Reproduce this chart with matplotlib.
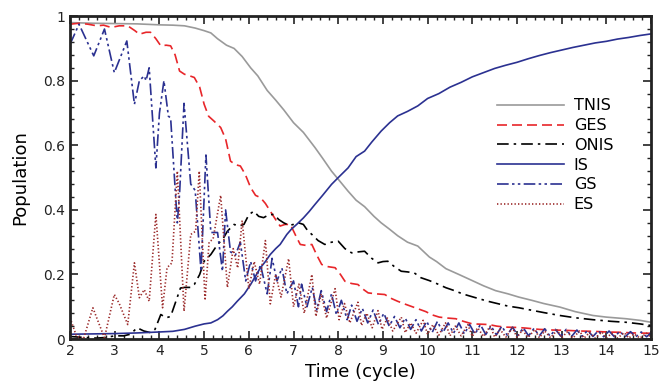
import numpy as np
import matplotlib
matplotlib.use('Agg')
import matplotlib.pyplot as plt

# данные

tnis_t = [2, 2.5, 3, 3.5, 4.0, 4.3, 4.56, 4.8, 5.0, 5.15, 5.3, 5.5, 5.67, 5.85, 6.04, 6.2, 6.41, 6.6,
          6.78, 7.0, 7.22, 7.48, 7.65, 7.85, 8.0, 8.22, 8.4, 8.59, 8.8, 8.96, 9.15, 9.33, 9.55, 9.78,
          10.04, 10.2, 10.41, 10.7, 11.0, 11.25, 11.52, 11.8, 12.04, 12.33, 12.6, 12.96, 13.3, 13.7,
          14.0, 14.44, 14.75, 15]
tnis = [0.98, 0.978, 0.977, 0.976, 0.973, 0.972, 0.97, 0.963, 0.955, 0.948, 0.93, 0.91, 0.90, 0.875,
        0.84, 0.815, 0.77, 0.74, 0.71, 0.67, 0.64, 0.593, 0.56, 0.52, 0.495, 0.458, 0.43, 0.41, 0.38,
        0.36, 0.34, 0.32, 0.30, 0.288, 0.254, 0.24, 0.218, 0.2, 0.181, 0.165, 0.15, 0.14, 0.13, 0.12,
        0.11, 0.099, 0.085, 0.073, 0.068, 0.063, 0.058, 0.052]

ges_t = [2.0, 2.2, 2.4, 2.6, 2.75, 2.92, 3.1, 3.29, 3.45, 3.55, 3.7, 3.8, 3.92, 4.03, 4.15, 4.25, 4.35,
         4.45, 4.56, 4.68, 4.78, 4.9, 5.0, 5.1, 5.22, 5.37, 5.48, 5.59, 5.7, 5.81, 5.92, 6.04, 6.15,
         6.26, 6.37, 6.48, 6.6, 6.7, 6.81, 6.93, 7.05, 7.15, 7.28, 7.41, 7.52, 7.63, 7.78, 7.93, 8.05,
         8.15, 8.3, 8.44, 8.55, 8.67, 8.85, 9.04, 9.2, 9.33, 9.5, 9.7, 9.96, 10.1, 10.26, 10.45, 10.63,
         10.8, 11.0, 11.2, 11.37, 11.55, 11.74, 12.0, 12.2, 12.5, 12.8, 13.1, 13.4, 13.7, 14.0, 14.3,
         14.6, 15]
ges = [0.975, 0.978, 0.975, 0.97, 0.972, 0.965, 0.97, 0.97, 0.955, 0.944, 0.95, 0.95, 0.93, 0.908,
       0.91, 0.908, 0.88, 0.83, 0.82, 0.815, 0.81, 0.78, 0.727, 0.69, 0.675, 0.655, 0.62, 0.551, 0.54,
       0.536, 0.51, 0.469, 0.445, 0.438, 0.42, 0.396, 0.37, 0.35, 0.355, 0.355, 0.32, 0.293, 0.29,
       0.293, 0.26, 0.231, 0.224, 0.221, 0.2, 0.179, 0.172, 0.169, 0.155, 0.143, 0.14, 0.138, 0.125,
       0.117, 0.108, 0.098, 0.085, 0.075, 0.068, 0.065, 0.063, 0.055, 0.047, 0.046, 0.045, 0.04,
       0.037, 0.036, 0.034, 0.03, 0.028, 0.027, 0.025, 0.024, 0.022, 0.021, 0.019, 0.018]

onis_t = [2.0, 2.3, 2.6, 2.8, 3.0, 3.2, 3.35, 3.5, 3.65, 3.8, 3.9, 4.03, 4.15, 4.25, 4.35, 4.47, 4.56,
          4.7, 4.78, 4.9, 5.0, 5.15, 5.3, 5.42, 5.52, 5.67, 5.78, 5.89, 6.0, 6.11, 6.22, 6.33, 6.45,
          6.56, 6.67, 6.78, 6.9, 7.0, 7.11, 7.22, 7.32, 7.41, 7.55, 7.7, 7.85, 8.0, 8.15, 8.3, 8.45,
          8.59, 8.75, 8.89, 9.0, 9.11, 9.25, 9.41, 9.55, 9.7, 9.85, 10.04, 10.2, 10.41, 10.6, 10.78,
          10.95, 11.15, 11.35, 11.59, 11.8, 12.04, 12.3, 12.6, 12.96, 13.3, 13.7, 14.1, 14.44, 14.75, 15]
onis = [0.008, 0.005, 0.003, 0.005, 0.01, 0.01, 0.015, 0.035, 0.025, 0.02, 0.03, 0.076, 0.066, 0.07,
        0.11, 0.158, 0.16, 0.16, 0.169, 0.2, 0.241, 0.262, 0.293, 0.31, 0.334, 0.355, 0.35, 0.355,
        0.385, 0.396, 0.38, 0.376, 0.385, 0.386, 0.37, 0.36, 0.352, 0.355, 0.36, 0.355, 0.335, 0.324,
        0.305, 0.293, 0.30, 0.303, 0.28, 0.267, 0.27, 0.272, 0.25, 0.236, 0.24, 0.241, 0.225, 0.21,
        0.208, 0.205, 0.19, 0.181, 0.172, 0.159, 0.15, 0.14, 0.133, 0.125, 0.117, 0.109, 0.102, 0.097,
        0.09, 0.082, 0.073, 0.066, 0.06, 0.055, 0.052, 0.047, 0.042]

is_t = [2.0, 2.5, 3.0, 3.5, 4.0, 4.3, 4.56, 4.8, 5.0, 5.15, 5.3, 5.42, 5.52, 5.63, 5.74, 5.9, 6.04,
        6.15, 6.26, 6.37, 6.48, 6.6, 6.7, 6.85, 6.95, 7.07, 7.22, 7.35, 7.48, 7.65, 7.85, 8.0, 8.22,
        8.4, 8.59, 8.75, 8.96, 9.15, 9.33, 9.55, 9.78, 10.0, 10.25, 10.5, 10.75, 11.0, 11.25, 11.5,
        11.75, 12.0, 12.25, 12.5, 12.75, 13.0, 13.25, 13.5, 13.75, 14.0, 14.25, 14.5, 14.75, 15.0]
is_ = [0.015, 0.016, 0.017, 0.019, 0.022, 0.024, 0.03, 0.04, 0.047, 0.05, 0.06, 0.072, 0.086, 0.1,
       0.117, 0.14, 0.169, 0.195, 0.221, 0.24, 0.262, 0.28, 0.293, 0.324, 0.34, 0.355, 0.375, 0.395,
       0.417, 0.445, 0.479, 0.5, 0.53, 0.565, 0.582, 0.61, 0.644, 0.67, 0.691, 0.705, 0.722, 0.745,
       0.76, 0.78, 0.795, 0.812, 0.825, 0.838, 0.848, 0.857, 0.868, 0.878, 0.887, 0.895, 0.903, 0.91,
       0.917, 0.922, 0.929, 0.934, 0.94, 0.945]

gs_t = [2.0, 2.2, 2.53, 2.77, 2.99, 3.27, 3.44, 3.55, 3.66, 3.7, 3.77, 3.92, 4.0, 4.1, 4.2, 4.25, 4.4,
        4.45, 4.55, 4.7, 4.8, 4.93, 5.04, 5.15, 5.3, 5.41, 5.48, 5.59, 5.7, 5.81, 5.93, 6.04, 6.15,
        6.26, 6.41, 6.52, 6.63, 6.74, 6.85, 7.0, 7.11, 7.18, 7.3, 7.42, 7.52, 7.62, 7.74, 7.85, 7.96,
        8.07, 8.2, 8.3, 8.42, 8.54, 8.66, 8.78, 8.9, 9.02, 9.14, 9.26, 9.38, 9.5, 9.62, 9.74, 9.86,
        9.98, 10.1, 10.22, 10.34, 10.46, 10.58, 10.7, 10.82, 10.94, 11.06, 11.18, 11.3, 11.42, 11.54,
        11.66, 11.78, 11.9, 12.02, 12.14, 12.26, 12.38, 12.5, 12.62, 12.74, 12.86, 12.98, 13.1, 13.22,
        13.34, 13.46, 13.58, 13.7, 13.82, 13.94, 14.06, 14.18, 14.3, 14.42, 14.54, 14.66, 14.78, 14.9,
        15.0]
gs = [0.913, 0.975, 0.877, 0.96, 0.825, 0.923, 0.727, 0.80, 0.815, 0.80, 0.84, 0.53, 0.70, 0.80, 0.69,
      0.685, 0.36, 0.45, 0.73, 0.48, 0.46, 0.21, 0.57, 0.33, 0.33, 0.21, 0.40, 0.27, 0.26, 0.30, 0.18,
      0.24, 0.18, 0.23, 0.14, 0.25, 0.18, 0.22, 0.14, 0.18, 0.10, 0.17, 0.10, 0.16, 0.09, 0.15, 0.085,
      0.14, 0.075, 0.12, 0.06, 0.105, 0.055, 0.095, 0.05, 0.09, 0.045, 0.08, 0.04, 0.07, 0.035, 0.065,
      0.03, 0.06, 0.025, 0.055, 0.02, 0.055, 0.02, 0.05, 0.018, 0.05, 0.016, 0.045, 0.015, 0.045,
      0.014, 0.04, 0.013, 0.04, 0.012, 0.037, 0.011, 0.035, 0.01, 0.033, 0.01, 0.032, 0.009, 0.03,
      0.009, 0.03, 0.008, 0.028, 0.008, 0.027, 0.008, 0.026, 0.007, 0.025, 0.007, 0.024, 0.007,
      0.023, 0.007, 0.022, 0.007, 0.02]

es_t = [2.0, 2.14, 2.3, 2.51, 2.64, 2.77, 2.99, 3.1, 3.29, 3.44, 3.55, 3.66, 3.77, 3.92, 4.07, 4.17,
        4.28, 4.4, 4.55, 4.7, 4.81, 4.89, 5.02, 5.11, 5.2, 5.37, 5.52, 5.65, 5.75, 5.85, 6.0, 6.12,
        6.24, 6.37, 6.48, 6.6, 6.72, 6.89, 7.0, 7.12, 7.24, 7.41, 7.5, 7.62, 7.74, 7.93, 8.02, 8.14,
        8.26, 8.44, 8.52, 8.64, 8.76, 8.89, 8.98, 9.1, 9.22, 9.41, 9.5, 9.62, 9.74, 9.9, 10.0, 10.12,
        10.25, 10.4, 10.5, 10.62, 10.75, 10.9, 11.0, 11.12, 11.25, 11.4, 11.5, 11.62, 11.75, 11.9,
        12.0, 12.12, 12.25, 12.4, 12.5, 12.62, 12.75, 12.9, 13.0, 13.12, 13.25, 13.4, 13.5, 13.62,
        13.75, 13.9, 14.0, 14.12, 14.25, 14.4, 14.5, 14.62, 14.75, 14.9, 15.0]
es = [0.066, 0.01, 0.0, 0.097, 0.05, 0.004, 0.138, 0.11, 0.045, 0.236, 0.128, 0.153, 0.117, 0.386,
      0.097, 0.221, 0.236, 0.52, 0.086, 0.324, 0.334, 0.52, 0.12, 0.30, 0.31, 0.445, 0.16, 0.28, 0.22,
      0.367, 0.156, 0.24, 0.17, 0.305, 0.109, 0.2, 0.13, 0.249, 0.10, 0.17, 0.08, 0.20, 0.07, 0.14,
      0.065, 0.156, 0.06, 0.11, 0.05, 0.114, 0.042, 0.08, 0.035, 0.088, 0.03, 0.065, 0.025, 0.068,
      0.02, 0.05, 0.018, 0.058, 0.015, 0.045, 0.012, 0.05, 0.01, 0.04, 0.01, 0.045, 0.008, 0.035,
      0.008, 0.04, 0.006, 0.03, 0.006, 0.035, 0.005, 0.028, 0.005, 0.03, 0.004, 0.025, 0.004, 0.028,
      0.004, 0.022, 0.003, 0.025, 0.003, 0.02, 0.003, 0.022, 0.003, 0.018, 0.003, 0.02, 0.003, 0.016,
      0.003, 0.018, 0.005]

x_ticks = [2, 3, 4, 5, 6, 7, 8, 9, 10, 11, 12, 13, 14, 15]
y_ticks = [0, 0.2, 0.4, 0.6, 0.8, 1]
y_labels = ['0', '0.2', '0.4', '0.6', '0.8', '1']

# график

fig = plt.figure(figsize=(6.61, 3.84), dpi=100)
ax = fig.add_axes([0.106, 0.117, 0.879, 0.841])

lw = 1.2
ax.plot(tnis_t, tnis, color='#9a9a9a', lw=lw, label='TNIS')
ax.plot(ges_t, ges, color='#e8262a', lw=lw, dashes=(6, 3), label='GES')
ax.plot(onis_t, onis, color='black', lw=lw, dashes=(7, 3, 1.5, 3), label='ONIS')
ax.plot(is_t, is_, color='#2b3191', lw=lw, label='IS')
ax.plot(gs_t, gs, color='#2b3191', lw=lw, dashes=(7, 2, 1.5, 2, 1.5, 2), label='GS')
ax.plot(es_t, es, color='#9b2a2a', lw=lw, dashes=(0.8, 1.3), label='ES')

ax.set_xlim(2, 15)
ax.set_ylim(0, 1)
ax.set_xticks(x_ticks)
ax.set_xticks(np.arange(2, 15.01, 0.2), minor=True)
ax.set_yticks(y_ticks)
ax.set_yticklabels(y_labels)
ax.set_yticks(np.arange(0, 1.001, 0.04), minor=True)
ax.tick_params(which='both', direction='in', top=True, right=True, labelsize=10, colors='#222222')
ax.tick_params(which='major', length=6, width=1.2)
ax.tick_params(which='minor', length=3, width=1)
for s in ax.spines.values():
    s.set_linewidth(2)
    s.set_color('#222222')

ax.set_xlabel('Time (cycle)', fontsize=13, labelpad=4)
ax.set_ylabel('Population', fontsize=13, labelpad=10)

ax.legend(loc='upper left', bbox_to_anchor=(0.71, 0.79), frameon=False, fontsize=11.5,
          handlelength=4.2, handletextpad=0.6, labelspacing=0.3)

fig.savefig('out.png', dpi=100)
